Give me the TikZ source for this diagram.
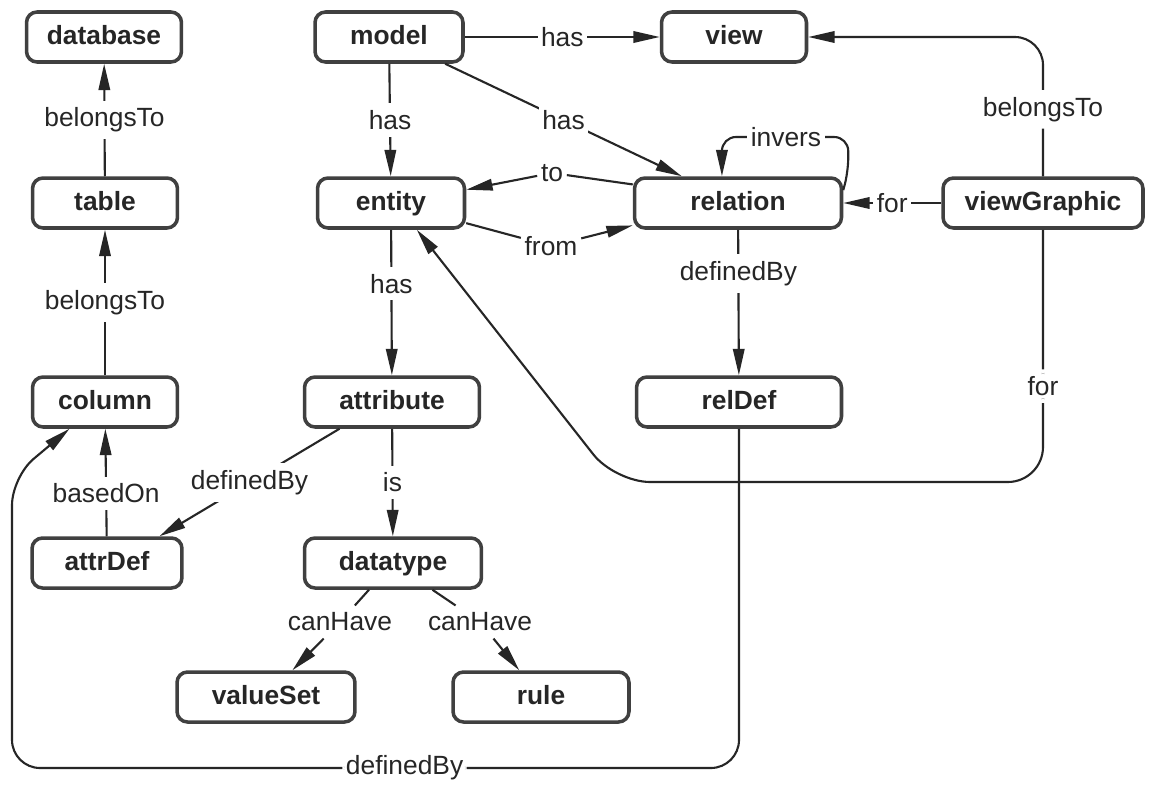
\documentclass[tikz,border=0pt]{standalone}
\usepackage{fontspec}
\setmainfont{Liberation Sans}
\usetikzlibrary{arrows.meta}

\begin{document}
\begin{tikzpicture}[x=0.02cm, y=-0.02cm, >={Triangle[length=15pt, width=6.5pt]},
    box/.style={draw=black!75, line width=2pt, rounded corners=6pt, minimum height=1cm,
      text height=11pt, text depth=3pt, text=black!85,
      font=\fontsize{15}{18}\selectfont\bfseries},
    lbl/.style={fill=white, inner xsep=2pt, inner ysep=4pt, text=black!85,
      font=\fontsize{15}{18}\selectfont},
    link/.style={->, line width=1.2pt, draw=black!85}]
    \fill[white] (0,0) rectangle (1155,788);

    % entities
    \node[box, minimum width=3.1cm]  (database)    at (104,37)   {database};
    \node[box, minimum width=2.96cm] (model)       at (389,37)   {model};
    \node[box, minimum width=2.9cm]  (view)        at (734,37)   {view};
    \node[box, minimum width=2.9cm]  (table)       at (105,203)  {table};
    \node[box, minimum width=2.94cm] (entity)      at (391,203)  {entity};
    \node[box, minimum width=4.14cm] (relation)    at (738,203)  {relation};
    \node[box, minimum width=4cm]    (viewGraphic) at (1043,203) {viewGraphic};
    \node[box, minimum width=2.9cm]  (column)      at (105,402)  {column};
    \node[box, minimum width=3.5cm]  (attribute)   at (392,402)  {attribute};
    \node[box, minimum width=4.1cm]  (relDef)      at (739,402)  {relDef};
    \node[box, minimum width=3cm]    (attrDef)     at (107,563)  {attrDef};
    \node[box, minimum width=3.54cm] (datatype)    at (393,563)  {datatype};
    \node[box, minimum width=3.56cm] (valueSet)    at (266,697)  {valueSet};
    \node[box, minimum width=3.52cm] (rule)        at (541,697)  {rule};

    % labels that bend their lines
    \node[lbl] (toLbl)   at (552,173) {to};
    \node[lbl] (fromLbl) at (551,246) {from};
    \node[lbl] (invLbl)  at (786,137) {invers};
    \node[lbl] (canV)    at (340,622) {canHave};
    \node[lbl] (canR)    at (480,622) {canHave};

    \coordinate (entTurn) at (615,482);
    \coordinate (vgTurn)  at (viewGraphic.south |- entTurn);
    \coordinate (botLeft) at (12,768);
    \coordinate (leftUp)  at (12,477);

    \draw[link] (table) -- node[lbl]{belongsTo} (database);
    \draw[link] (column) -- node[lbl]{belongsTo} (table);
    \draw[link] (attrDef) -- node[lbl, pos=0.4]{basedOn} (column);
    \draw[link] (model) -- node[lbl]{has} (view);
    \draw[link] (model) -- node[lbl]{has} (entity);
    \draw[link] (model) -- node[lbl]{has} (relation);
    \draw[link] (entity) -- node[lbl, pos=0.37]{has} (attribute);
    \draw[link] (relation.170) -- (toLbl) -- (entity.10);
    \draw[link] (entity.-15) -- (fromLbl) -- (relation.192);
    \draw[link, rounded corners=8pt] (relation.7) -- ++(5,-18) |- (invLbl) -| (relation.121);
    \draw[link] (viewGraphic) -- node[lbl]{for} (relation);
    \draw[link, rounded corners=16pt] (viewGraphic.north) |- node[lbl, pos=0.24]{belongsTo} (view.east);
    \draw[link] (relation) -- node[lbl, pos=0.3]{definedBy} (relDef);
    \draw[link, rounded corners=20pt] (viewGraphic.south) -- node[lbl, pos=0.62]{for} (vgTurn) -- (entTurn) -- (entity.-46);
    \draw[link] (attribute.207) -- node[lbl]{definedBy} (attrDef.27);
    \draw[link] (attribute) -- node[lbl]{is} (datatype);
    \draw[link] (datatype) -- (canV) -- (valueSet);
    \draw[link] (datatype) -- (canR) -- (rule);
    \draw[link, rounded corners=16pt] (relDef.south) |- node[lbl, pos=0.73]{definedBy} (botLeft) -- (leftUp) -- (column.217);
\end{tikzpicture}
\end{document}
